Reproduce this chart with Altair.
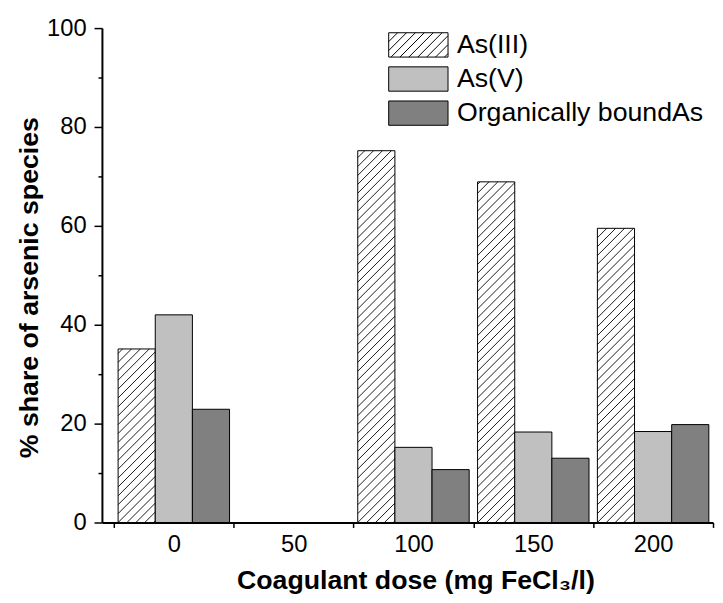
import altair as alt
import pandas as pd

# ---- data ----
doses = [0, 50, 100, 150, 200]
series = ["As(III)", "As(V)", "Organically boundAs"]
as_iii = [35.1, None, 75.2, 68.9, 59.5]
as_v = [42.0, None, 15.2, 18.3, 18.4]
org_as = [22.9, None, 10.7, 13.0, 19.8]
fills = ["#ffffff", "#c0c0c0", "#808080"]

rows = []
for i, (name, vals) in enumerate(zip(series, [as_iii, as_v, org_as])):
    for d, v in zip(doses, vals):
        if v is not None:
            rows.append({"dose": d, "series": name, "idx": i, "value": v})
df = pd.DataFrame(rows)
legend_df = pd.DataFrame({"series": series})

FONT = "Liberation Sans"
W, H = 618, 500
XDOM = [-30, 225]
AX = W / (XDOM[1] - XDOM[0])   # px per x unit
AY = H / 100.0                  # px per y unit
BW = 15.5                       # bar width (x units)
GOFF = 23.25                    # group half width (x units)
HS = 9                          # hatch spacing (px)
WBPX = BW * AX
HALF = 25                       # half of the dose step

# ticks sit between the groups, labels are shifted onto the group centres
x_ticks = [d - HALF for d in doses] + [doses[-1] + HALF]

x_scale = alt.Scale(domain=XDOM, nice=False, zero=False)
y_scale = alt.Scale(domain=[0, 100], nice=False)
fill_scale = alt.Scale(domain=series, range=fills)

x_axis = alt.Axis(
    values=x_ticks,
    labelExpr=f"datum.value + {HALF} <= {doses[-1]} ? format(datum.value + {HALF}, 'd') : ''",
    labelOffset=HALF * AX,
    labelOverlap=False, labelFlush=False, grid=False,
    tickSize=5, tickWidth=1.5, tickColor="black",
    domainColor="black", domainWidth=2,
    labelFont=FONT, labelFontSize=24, labelColor="black", labelPadding=5,
    title="Coagulant dose (mg FeCl₃/l)",
    titleFont=FONT, titleFontSize=27, titleFontWeight="bold", titleColor="black",
    titleX=317, titleY=67, titleBaseline="alphabetic",
)
y_axis = alt.Axis(
    values=list(range(0, 101, 10)),
    labelExpr="datum.value % 20 === 0 ? datum.label : ''",
    tickSize={"condition": {"test": "datum.value % 20 === 0", "value": 8}, "value": 4},
    labelOverlap=False, labelFlush=False, grid=False,
    tickWidth=1.5, tickColor="black",
    domainColor="black", domainWidth=2,
    labelFont=FONT, labelFontSize=24, labelColor="black", labelPadding=8,
    title="% share of arsenic species",
    titleFont=FONT, titleFontSize=27, titleFontWeight="bold", titleColor="black",
    titleX=-65, titleY=262, titleBaseline="alphabetic", titleAngle=270,
)

base = alt.Chart(df).transform_calculate(
    x0=f"datum.dose - {GOFF} + datum.idx * {BW}"
).transform_calculate(x1=f"datum.x0 + {BW}")

bars = base.mark_rect(stroke="black", strokeWidth=1, opacity=1).encode(
    x=alt.X("x0:Q", scale=x_scale, axis=x_axis),
    x2="x1:Q",
    y=alt.Y("value:Q", scale=y_scale, axis=y_axis),
    y2=alt.datum(0),
    fill=alt.Fill("series:N", scale=fill_scale, legend=None),
)

hatch = (
    base.transform_filter(alt.datum.series == series[0])
    .transform_calculate(k="sequence(-6, 60)")
    .transform_flatten(["k"])
    .transform_calculate(c=f"datum.k * {HS}", hb=f"datum.value * {AY}")
    .transform_calculate(xs="max(0, -datum.c)", xe=f"min({WBPX}, datum.hb - datum.c)")
    .transform_filter("datum.xs < datum.xe")
    .transform_calculate(
        hx1=f"datum.x0 + datum.xs / {AX}",
        hy1=f"(datum.xs + datum.c) / {AY}",
        hx2=f"datum.x0 + datum.xe / {AX}",
        hy2=f"(datum.xe + datum.c) / {AY}",
    )
    .mark_rule(color="black", strokeWidth=0.9)
    .encode(
        x=alt.X("hx1:Q", scale=x_scale),
        x2="hx2:Q",
        y=alt.Y("hy1:Q", scale=y_scale),
        y2="hy2:Q",
    )
)


def hatch_path(h=0.41, step=0.3):
    rect = f"M-1,{-h}H1V{h}H-1Z"
    segs = []
    a = -1 - 2 * h
    while a < 1:
        t0 = max(0.0, -1 - a)
        t1 = min(2 * h, 1 - a)
        if t1 - t0 > 1e-6:
            segs.append(f"M{a + t0:.3f},{h - t0:.3f}L{a + t1:.3f},{h - t1:.3f}")
        a += step
    return rect + "".join(segs)


rect_path = "M-1,-0.41H1V0.41H-1Z"
shape_scale = alt.Scale(domain=series, range=[hatch_path(), rect_path, rect_path])

legend_layers = []
for i, name in enumerate(series):
    row_y = 17 + 34.5 * i
    src = alt.Chart(legend_df).transform_filter(alt.datum.series == name)
    legend_layers.append(
        src.mark_point(filled=True, stroke="black", strokeWidth=1, opacity=1, size=3600).encode(
            x=alt.value(320),
            y=alt.value(row_y),
            fill=alt.Fill("series:N", scale=fill_scale, legend=None),
            shape=alt.Shape("series:N", scale=shape_scale, legend=None),
        )
    )
    legend_layers.append(
        src.mark_text(align="left", baseline="middle", font=FONT, fontSize=27, color="black").encode(
            x=alt.value(359),
            y=alt.value(row_y),
            text="series:N",
        )
    )

chart = (
    alt.layer(bars, hatch, *legend_layers)
    .properties(
        width=W, height=H,
        autosize=alt.AutoSizeParams(type="none"),
        padding={"left": 95, "top": 17, "right": 2, "bottom": 70},
        background="white",
    )
    .configure_view(stroke=None)
)

chart.save("out.html", embed_options={"renderer": "svg", "actions": False})
